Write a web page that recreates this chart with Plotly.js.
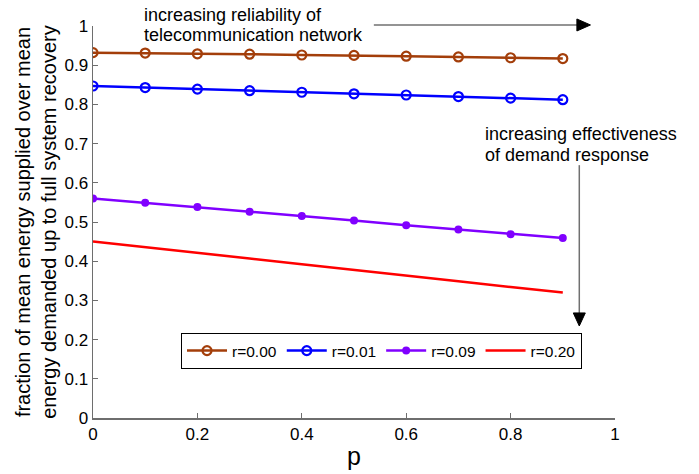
<!DOCTYPE html>
<html>
<head>
<meta charset="utf-8">
<script src="https://cdn.plot.ly/plotly-3.0.1.min.js"></script>
<style>html,body{margin:0;padding:0;background:#fff;}#chart{width:699px;height:474px;}</style>
</head>
<body>
<div id="chart"></div>
<script>
const pValues = [0, 0.1, 0.2, 0.3, 0.4, 0.5, 0.6, 0.7, 0.8, 0.9];
const seriesNames = ["r=0.00", "r=0.01", "r=0.09", "r=0.20"];
const r000 = [0.932, 0.931, 0.929, 0.928, 0.926, 0.925, 0.923, 0.921, 0.919, 0.917];
const r001 = [0.847, 0.843, 0.839, 0.835, 0.831, 0.827, 0.824, 0.820, 0.816, 0.812];
const r009 = [0.560, 0.549, 0.538, 0.526, 0.515, 0.504, 0.492, 0.481, 0.469, 0.459];
const r020 = [0.450, 0.436, 0.421, 0.407, 0.392, 0.378, 0.363, 0.349, 0.334, 0.320];
const xTicks = [0, 0.2, 0.4, 0.6, 0.8, 1];
const yTicks = [0, 0.1, 0.2, 0.3, 0.4, 0.5, 0.6, 0.7, 0.8, 0.9, 1];
const noteLines = ["increasing reliability of", "telecommunication network",
                   "increasing effectiveness", "of demand response"];

const font = "Liberation Sans, Arial, Helvetica, sans-serif";
const traces = [
  {x: pValues, y: r000, name: seriesNames[0], mode: "lines+markers",
   line: {color: "#a33e0a", width: 2.5},
   marker: {symbol: "circle-open", size: 9, color: "#a33e0a", line: {width: 2.2}}},
  {x: pValues, y: r001, name: seriesNames[1], mode: "lines+markers",
   line: {color: "#0000ff", width: 2.5},
   marker: {symbol: "circle-open", size: 9, color: "#0000ff", line: {width: 2.2}}},
  {x: pValues, y: r009, name: seriesNames[2], mode: "lines+markers",
   line: {color: "#8000ff", width: 2.5},
   marker: {symbol: "circle", size: 8, color: "#8000ff"}},
  {x: pValues, y: r020, name: seriesNames[3], mode: "lines",
   line: {color: "#ff0000", width: 2.5}}
];

function note(text, x, y) {
  return {xref: "paper", yref: "paper", x: x, y: y, xanchor: "left", yanchor: "middle",
    align: "left", showarrow: false, text: text,
    font: {family: font, size: 18, color: "#000"}};
}

const layout = {
  width: 699, height: 474,
  margin: {l: 93, r: 84, t: 26, b: 56},
  paper_bgcolor: "#fff", plot_bgcolor: "#fff",
  font: {family: font, size: 17, color: "#000"},
  showlegend: true,
  legend: {orientation: "h", x: 0.1686, y: 0.2168, xanchor: "left", yanchor: "top",
    bordercolor: "#000", borderwidth: 1, bgcolor: "#fff",
    font: {family: font, size: 15.5, color: "#000"}, itemwidth: 40, tracegroupgap: 0},
  xaxis: {range: [0, 1], tickvals: xTicks, ticktext: xTicks.map(String),
    showgrid: false, zeroline: false, showline: true, linecolor: "#6e6e6e", linewidth: 1.5,
    ticks: "inside", ticklen: 5, tickcolor: "#6e6e6e", mirror: false,
    tickfont: {family: font, size: 17, color: "#000"},
    title: {text: "p", font: {family: font, size: 25, color: "#000"}, standoff: 4}},
  yaxis: {range: [0, 1], tickvals: yTicks, ticktext: yTicks.map(String),
    showgrid: false, zeroline: false, showline: true, linecolor: "#6e6e6e", linewidth: 1.5,
    ticks: "inside", ticklen: 5, tickcolor: "#6e6e6e", mirror: false,
    tickfont: {family: font, size: 17, color: "#000"},
    title: {text: "fraction of mean energy supplied over mean<br>energy demanded up to full system recovery",
      font: {family: font, size: 20, color: "#000"}, standoff: 2}},
  annotations: [
    note(noteLines[0], 0.0933, 1.027),
    note(noteLines[1], 0.0933, 0.977),
    note(noteLines[2], 0.7466, 0.725),
    note(noteLines[3], 0.7466, 0.671)
  ],
  shapes: [
    {type: "line", xref: "paper", yref: "paper", x0: 0.538, x1: 0.93, y0: 1.0026, y1: 1.0026,
     line: {color: "#707070", width: 1.5}},
    {type: "path", xref: "paper", yref: "paper",
     path: "M 0.927 1.0179 L 0.953 1.0026 L 0.927 0.9873 Z", fillcolor: "#000", line: {color: "#000", width: 1}},
    {type: "line", xref: "paper", yref: "paper", x0: 0.9316, x1: 0.9316, y0: 0.645, y1: 0.265,
     line: {color: "#707070", width: 1.5}},
    {type: "path", xref: "paper", yref: "paper",
     path: "M 0.9201 0.268 L 0.9316 0.2347 L 0.9431 0.268 Z", fillcolor: "#000", line: {color: "#000", width: 1}}
  ]
};

Plotly.newPlot("chart", traces, layout, {displayModeBar: false, staticPlot: true});
</script>
</body>
</html>
